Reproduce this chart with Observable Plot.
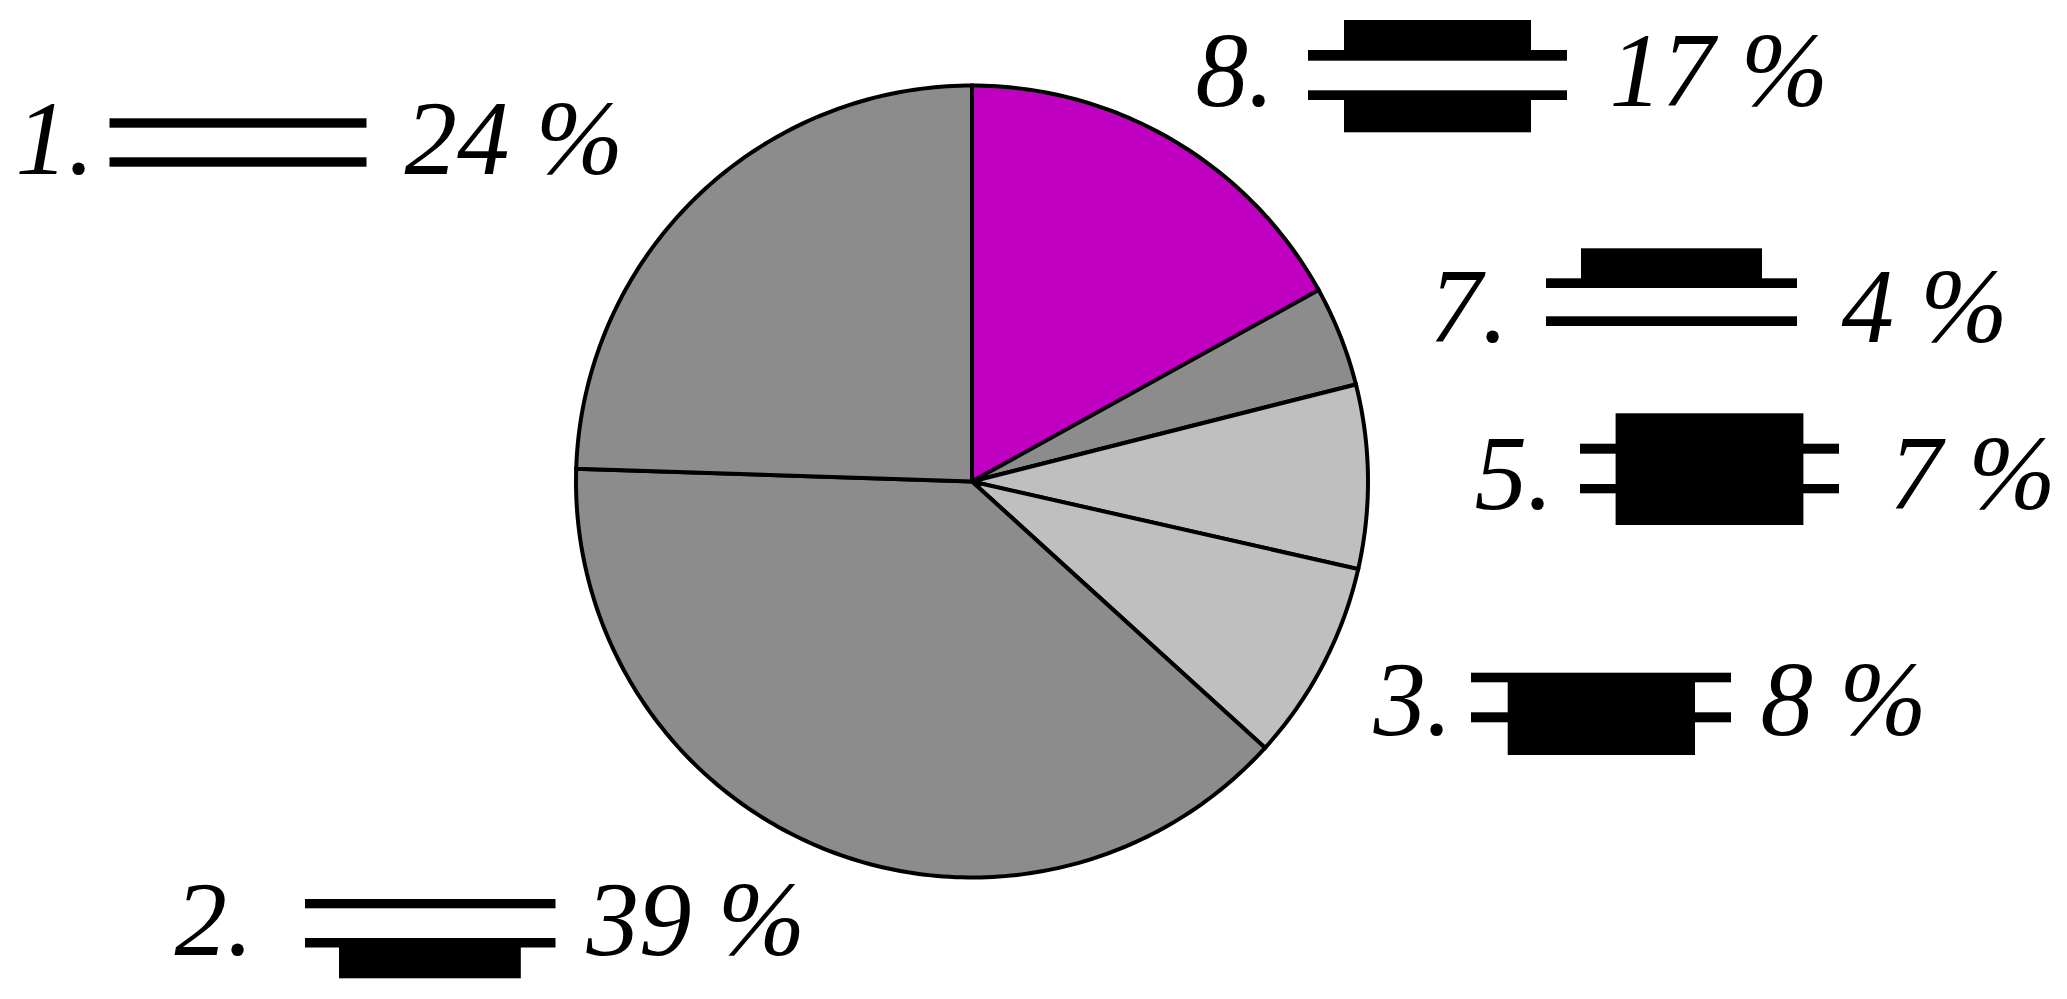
<!DOCTYPE html>
<html>
<head>
<meta charset="utf-8">
<script src="https://cdn.jsdelivr.net/npm/d3@7"></script>
<script src="https://cdn.jsdelivr.net/npm/@observablehq/plot@0.6"></script>
<style>
html,body{margin:0;padding:0;background:#fff;}
svg{display:block;}
</style>
</head>
<body>
<div id="chart"></div>
<script>
// Clockwise from 12 o'clock
const itemNumbers = ["8.", "7.", "5.", "3.", "2.", "1."];
const percentLabels = [17, 4, 7, 8, 39, 24];
const sliceShares = [16.97, 4.09, 7.49, 8.19, 38.77, 24.49];
const sliceColors = ["#c000c0", "#8c8c8c", "#bfbfbf", "#bfbfbf", "#8c8c8c", "#8c8c8c"];

// Page layout
const W = 2067, H = 999;
const cx = 971.5, cy = 481, r = 396;
const numberX = [1195, 1429, 1474, 1373, 174, 15];
const numberBaseline = [105, 341, 508, 734, 954, 173];
const percentX = [1609, 1841, 1889, 1760, 586, 404];
const percentBaseline = [105, 341, 508, 734, 954, 173];

// Legend glyphs: [x1, x2, y1, y2]
const glyphParts = [
  [1308, 1567, 50, 60.7], [1344, 1531, 20, 60], [1308, 1567, 90.3, 100], [1344, 1531, 95, 132.3],
  [1546, 1797, 278.3, 288], [1581, 1762, 248.3, 285], [1546, 1797, 316.3, 326],
  [1580, 1839, 443.7, 453.7], [1580, 1839, 484, 493.3], [1615.6, 1803.4, 413.3, 525],
  [1471, 1731, 672.7, 682.3], [1471, 1731, 712.3, 722.3], [1507.7, 1695, 675, 755],
  [305, 555.5, 899, 908.3], [305, 555.5, 938, 947.5], [339, 520.8, 943, 978.3],
  [109.5, 366.5, 118.3, 127.7], [109.5, 366.5, 157.3, 166.7]
];

// Wedge outlines from the shares
let cum = 0;
const wedgePoints = [];
sliceShares.forEach((share, i) => {
  const a0 = cum / 100 * 2 * Math.PI;
  cum += share;
  const a1 = cum / 100 * 2 * Math.PI;
  const steps = Math.max(2, Math.ceil(share * 4));
  wedgePoints.push({slice: i, x: cx, y: cy, color: sliceColors[i]});
  for (let k = 0; k <= steps; k++) {
    const a = a0 + (a1 - a0) * k / steps;
    wedgePoints.push({slice: i, x: cx + r * Math.sin(a), y: cy - r * Math.cos(a), color: sliceColors[i]});
  }
  wedgePoints.push({slice: i, x: cx, y: cy, color: sliceColors[i]});
});

const textStyle = {
  fontFamily: "'Liberation Serif', serif",
  fontStyle: "italic",
  fontSize: 105,
  fill: "#000",
  textAnchor: "start",
  lineAnchor: "bottom"
};

const chart = Plot.plot({
  width: W,
  height: H,
  margin: 0,
  x: {domain: [0, W], range: [0, W], axis: null},
  y: {domain: [0, H], range: [0, H], axis: null},
  color: {type: "identity"},
  style: {background: "#fff"},
  marks: [
    Plot.line(wedgePoints, {
      x: "x", y: "y", z: "slice", fill: "color", stroke: "#000",
      strokeWidth: 4, strokeLinejoin: "miter", strokeMiterlimit: 4
    }),
    Plot.rect(glyphParts, {
      x1: d => d[0], x2: d => d[1], y1: d => d[2], y2: d => d[3], fill: "#000"
    }),
    Plot.text(itemNumbers, {
      x: (d, i) => numberX[i], y: (d, i) => numberBaseline[i], text: d => d, ...textStyle
    }),
    Plot.text(percentLabels, {
      x: (d, i) => percentX[i], y: (d, i) => percentBaseline[i], text: d => `${d} %`, ...textStyle
    })
  ]
});
document.getElementById("chart").appendChild(chart);
</script>
</body>
</html>
